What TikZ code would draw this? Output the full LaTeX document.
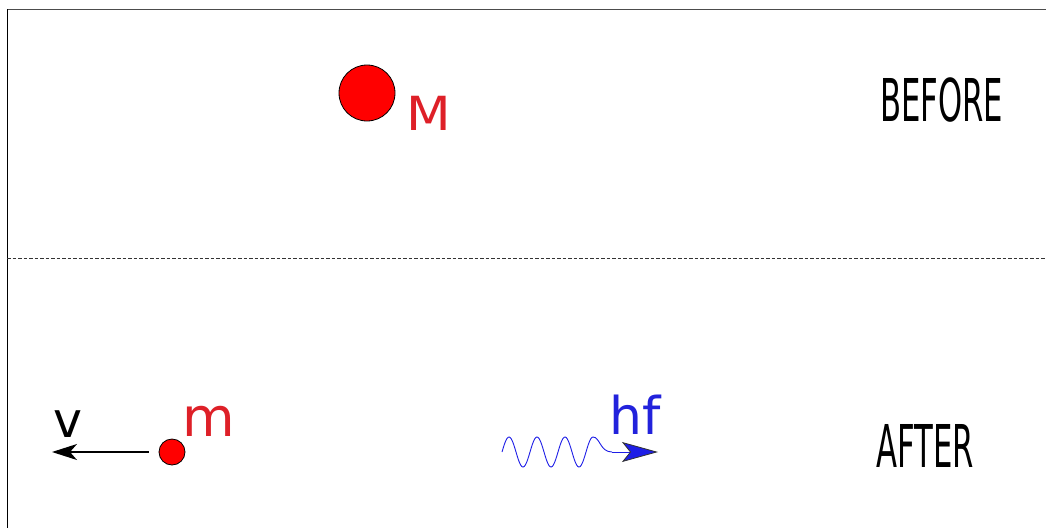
\documentclass[tikz,border=0pt]{standalone}
\usepackage{fontspec}
\setmainfont{DejaVu Sans}
\usetikzlibrary{arrows.meta}
\definecolor{lblred}{RGB}{222,32,40}
\definecolor{lblblue}{RGB}{34,34,220}
\definecolor{wblue}{RGB}{30,30,230}
\tikzset{
  frame/.style={line width=1pt,black!70},
  ball/.style={circle,draw=black,fill=red,line width=0.8pt,inner sep=0pt},
  redlbl/.style={text=lblred,inner sep=0pt,anchor=base west},
  statelbl/.style={inner sep=0pt,anchor=base west,font=\fontsize{59}{59}\selectfont},
}
\begin{document}
\begin{tikzpicture}[x=1pt,y=-1pt]
\useasboundingbox (0,0) rectangle (1046,528);
% frame
\draw[frame] (7,9) -- (1046,9);
\draw[line width=1pt,black] (7,9) -- (7,528);
\draw[line width=0.8pt,black!80,dash pattern=on 3.5pt off 2pt] (7,258) -- (1046,258);
% before
\node[ball,minimum size=56pt] (M) at (367,93) {};
\node[redlbl,font=\fontsize{47}{47}\selectfont] (Mlbl) at (406,130) {\scalebox{1.1}[1]{M}};
\node[statelbl] (before) at (880,121) {\scalebox{0.52}[1]{BEFORE}};
% after
\node[ball,minimum size=26pt] (m) at (172,452) {};
\node[redlbl,font=\fontsize{54}{54}\selectfont] (mlbl) at (182,436) {m};
\coordinate (vend) at (52,452);
\draw[line width=1.3pt,-{Stealth[length=25pt,width=16pt,inset=7pt]}] (m.west) ++(-10pt,0) coordinate (vstart) (vstart) -- (vend);
\node[inner sep=0pt,anchor=base west,font=\fontsize{49}{49}\selectfont] (v) at (53,437) {v};
% photon
\coordinate (w0) at (502,452);
\coordinate (wend) at (658,452);
\draw[wblue,line width=0.9pt] plot[domain=0:91,samples=120,smooth] ({502+\x},{452-15*sin(\x/28*360)})
  .. controls (600,437) and (600,452) .. (612,452) coordinate (wmid);
\draw[wblue,line width=0.9pt,-{Stealth[length=36pt,width=20pt,inset=8pt,fill=wblue,color=black!80,line width=0.8pt]}] (wmid) -- (wend);
\node[inner sep=0pt,anchor=base west,text=lblblue,font=\fontsize{52}{52}\selectfont] (hf) at (609,434) {hf};
\node[statelbl] (after) at (876,467) {\scalebox{0.52}[1]{AFTER}};
\end{tikzpicture}
\end{document}
